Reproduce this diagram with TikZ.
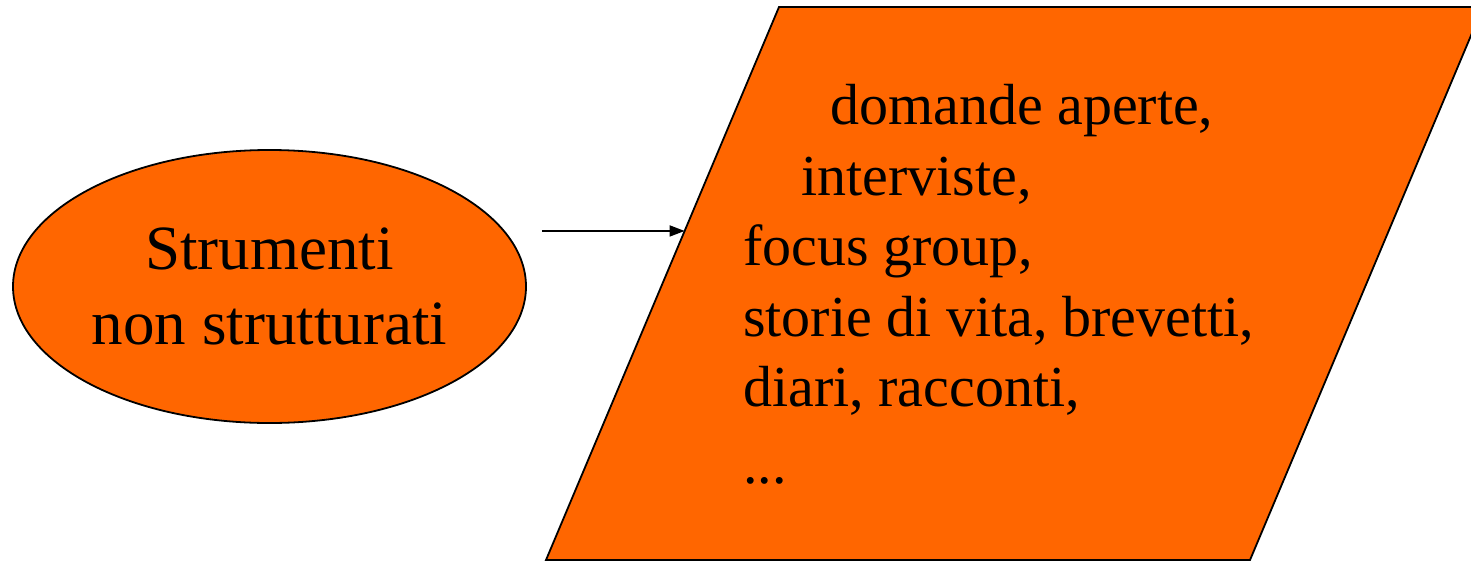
\documentclass[tikz,border=0pt]{standalone}
\usepackage{fontspec}
\setmainfont{Liberation Serif}
\usetikzlibrary{arrows.meta, calc, shapes.geometric}
\definecolor{orangefill}{HTML}{FF6600}

\begin{document}
\begin{tikzpicture}[x=1pt,y=-1pt,
		shapefill/.style={fill=orangefill,draw=black,line width=1.8pt}]
		\useasboundingbox (0,0) rectangle (1471,562);
		\clip (0,0) rectangle (1471,562);
		\coordinate (bl) at (546,560);
		\coordinate (br) at (1250,560);
		\coordinate (tr) at (1483,7);
		\coordinate (tl) at (779,7);
		\draw [shapefill] (bl) -- (br) -- (tr) -- (tl) -- cycle;
		\node[shapefill,ellipse,minimum width=513pt,minimum height=273pt,inner sep=0pt,align=center,font=\fontsize{63}{75}\selectfont] (tools) at (269.5,286.5) {\raisebox{-3pt}{Strumenti}\\\raisebox{-3pt}{non strutturati}};
		\node[anchor=base west,inner sep=0pt,align=left,font=\fontsize{58}{70.5}\selectfont] (list) at (743,483) {\hspace*{87pt}domande aperte,\\\hspace*{58pt}interviste,\\focus group,\\storie di vita, brevetti,\\diari, racconti,\\[6pt]...};
		\coordinate (hit) at ($(bl)!0.595!(tl)$);
		\draw [-{Triangle[length=15pt,width=11pt]},line width=1.6pt] ([xshift=15pt]tools.east |- hit) -- (hit);
	\end{tikzpicture}
\end{document}
